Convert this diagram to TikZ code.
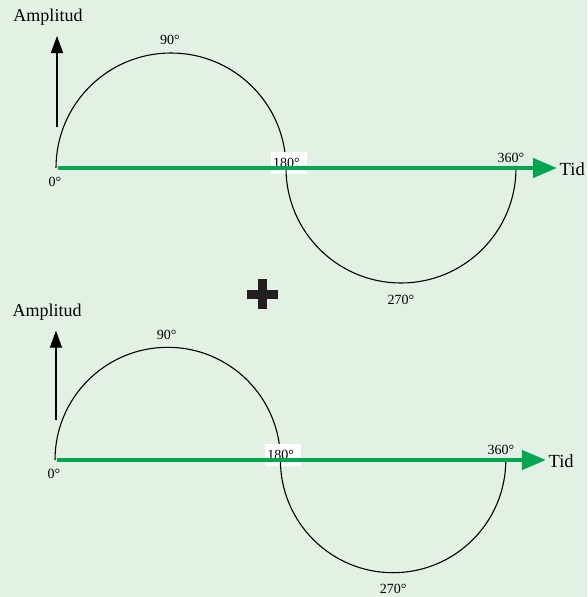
\documentclass[tikz,border=0pt]{standalone}
\usepackage{fontspec}
\setmainfont{Liberation Serif}
\definecolor{bggreen}{HTML}{E3F1E5}
\definecolor{axisgreen}{HTML}{00A650}
\definecolor{plusblack}{HTML}{231F20}
\usetikzlibrary{arrows.meta, positioning}

\begin{document}
\begin{tikzpicture}[
    x=1pt, y=1pt,
    wave/.style={black, line width=1.1pt},
    axisarr/.style={-{Triangle[length=24pt, width=19pt]}, line width=4.3pt, axisgreen},
    amparr/.style={-{Triangle[length=17pt, width=12pt]}, line width=1.2pt, black},
    deg/.style={font=\fontsize{14}{16}\selectfont, inner sep=1pt},
    lbl/.style={font=\fontsize{18}{20}\selectfont, inner sep=1pt},
    tidlbl/.style={font=\fontsize{18.5}{20}\selectfont, inner sep=2.5pt, anchor=west}
  ]
  % background
  \fill[bggreen] (0,0) rectangle (587,-597);
  \useasboundingbox (0,0) rectangle (587,-597);

  \foreach \d/\sx/\sy/\sc in {a/56/168/1, b/55/460/0.98} {
    \begin{scope}[shift={(\sx,-\sy)}, scale=\sc]
      \coordinate (o\d) at (0,0);
      \coordinate (m\d) at (230,0);
      \node[lbl] (amp\d) at (-8,151) {Amplitud};
      \coordinate (abot\d) at (1,41);
      \coordinate (atop\d) at (1,132);
      \draw[amparr] (abot\d) -- (atop\d);

      % upper half wave
      \draw[wave] (o\d) arc[start angle=180, end angle=0, radius=115];
      \node[deg] (n90\d) at (114,128) {90°};
      \node[deg, fill=white, minimum width=36pt, minimum height=22pt,
            align=left, text width=32pt] (n180\d) at (233,5) {180°};

      % lower half wave
      \draw[wave] (m\d) arc[start angle=180, end angle=360, radius=115];
      \node[deg] (n270\d) at (345,-132) {270°};

      % time axis
      \node[tidlbl] (tid\d) at (501,-1) {Tid};
      \draw[axisarr] ([xshift=2pt]o\d) -- (o\d -| tid\d.west);
      \node[deg] (n0\d) at (-1,-14) {0°};
      \node[deg] (n360\d) at (455,10) {360°};
    \end{scope}
  }

  % plus sign
  \coordinate (plus) at (262.5,-294);
  \fill[plusblack] ([xshift=-15.5pt, yshift=-4.5pt]plus) rectangle ([xshift=15.5pt, yshift=4.5pt]plus);
  \fill[plusblack] ([xshift=-4.5pt, yshift=-15pt]plus) rectangle ([xshift=4.5pt, yshift=15pt]plus);
\end{tikzpicture}
\end{document}
